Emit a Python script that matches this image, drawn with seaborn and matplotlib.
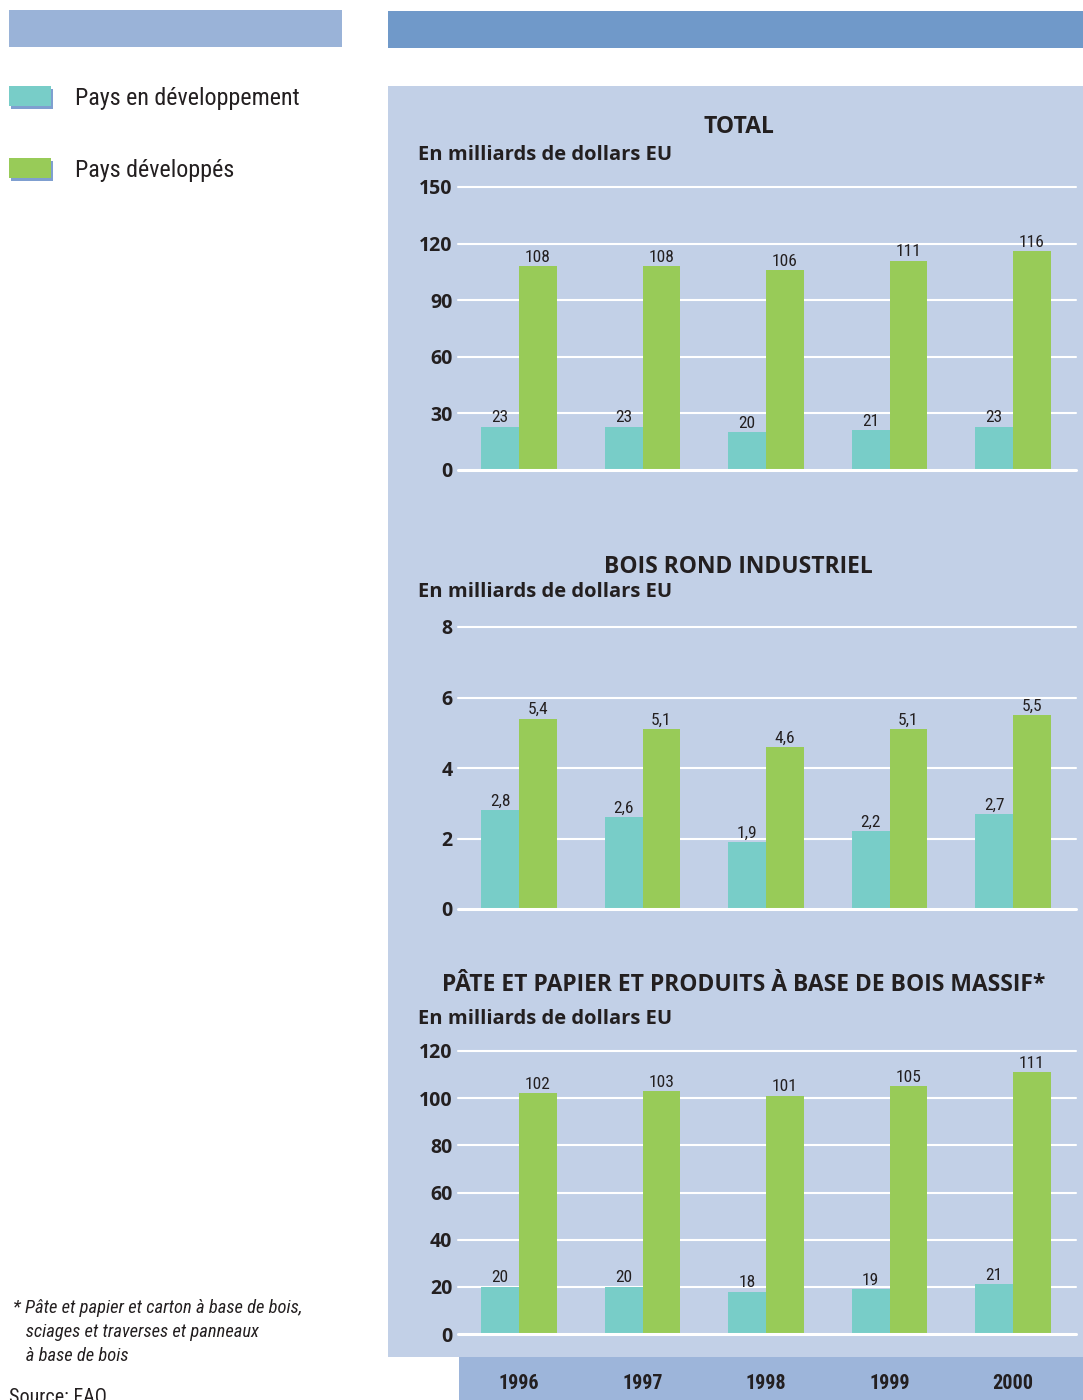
import matplotlib
matplotlib.use("Agg")
import matplotlib.pyplot as plt
from matplotlib.patches import Rectangle
from matplotlib import font_manager
import seaborn as sns
import pandas as pd

# Data (milliards de dollars EU)
years = ["1996", "1997", "1998", "1999", "2000"]
groups = ["Pays en développement", "Pays développés"]

total_dev = [23, 23, 20, 21, 23]
total_devd = [108, 108, 106, 111, 116]

rond_dev = [2.8, 2.6, 1.9, 2.2, 2.7]
rond_devd = [5.4, 5.1, 4.6, 5.1, 5.5]

pate_dev = [20, 20, 18, 19, 21]
pate_devd = [102, 103, 101, 105, 111]

panel_titles = ["TOTAL", "BOIS ROND INDUSTRIEL",
                "PÂTE ET PAPIER ET PRODUITS À BASE DE BOIS MASSIF*"]
unit_label = "En milliards de dollars EU"
y_ticks = [[0, 30, 60, 90, 120, 150], [0, 2, 4, 6, 8],
           [0, 20, 40, 60, 80, 100, 120]]

TEAL = "#78cdc8"
GREEN = "#98cb58"
PANEL_BG = "#c2d0e7"
BAR_TOP_L = "#9ab3d8"
BAR_TOP_R = "#7099c9"
YEAR_BG = "#9db5da"
SHADOW = "#7f9fd0"
TXT = "#231f20"

sns.set_theme(style="white")
plt.rcParams["font.family"] = ["Open Sans", "DejaVu Sans"]

# Pick a condensed face for labels if one is installed
installed = {f.name for f in font_manager.fontManager.ttflist}
narrow_face = next((n for n in ["Liberation Sans Narrow", "Roboto Condensed",
                                "Open Sans Condensed", "DejaVu Sans Condensed",
                                "Roboto"] if n in installed), "DejaVu Sans")
narrow = [narrow_face, "DejaVu Sans"]

W, H = 1083, 1400
fig = plt.figure(figsize=(W / 100, H / 100), dpi=100)


def px_rect(x0, y0, x1, y1, color, z=-10):
    fig.patches.append(Rectangle((x0 / W, 1 - y1 / H), (x1 - x0) / W, (y1 - y0) / H,
                                 transform=fig.transFigure, facecolor=color,
                                 edgecolor="none", zorder=z))


def px_text(x, y, s, **kw):
    fig.text(x / W, 1 - y / H, s, **kw)


# Decorative header bands and panel background
px_rect(9, 10, 342, 47, BAR_TOP_L)
px_rect(388, 11, 1083, 48, BAR_TOP_R)
px_rect(388, 86, 1083, 1357, PANEL_BG)
px_rect(459, 1357, 1083, 1400, YEAR_BG)

# Legend
for (yc, col, lab) in [(97, TEAL, groups[0]), (169, GREEN, groups[1])]:
    px_rect(11, yc - 8, 53, yc + 12, SHADOW, z=-9)
    px_rect(9, yc - 11, 51, yc + 9, col, z=-8)
    px_text(75, yc + 2, lab, family=narrow, fontsize=17.3, color=TXT, va="center", ha="left")

# Footnote and source
foot = ["* Pâte et papier et carton à base de bois,",
        "   sciages et traverses et panneaux",
        "   à base de bois"]
for i, line in enumerate(foot):
    px_text(13, 1308 + 24 * i, line, family=narrow, style="italic", fontsize=13.3,
            color=TXT, va="center", ha="left")
px_text(9, 1388, "Source: FAO", family=narrow, fontsize=14.5, color=TXT, va="top", ha="left")

# Axes geometry in pixels: (zero line y, top line y)
axes_px = [(470, 187), (909, 627), (1334, 1051)]
title_y = [127, 567, 985]
unit_y = [155, 592, 1019]
title_x = [739, 738, 744]
data_sets = [(total_dev, total_devd), (rond_dev, rond_devd), (pate_dev, pate_devd)]
x_left, x_right = 458, 1076

for k in range(3):
    dev, devd = data_sets[k]
    df = pd.DataFrame({
        "year": years * 2,
        "group": [groups[0]] * 5 + [groups[1]] * 5,
        "value": dev + devd,
    })
    y0, y1 = axes_px[k]
    ax = fig.add_axes([x_left / W, 1 - y0 / H, (x_right - x_left) / W, (y0 - y1) / H])
    ax.set_facecolor("none")
    sns.barplot(data=df, x="year", y="value", hue="group", order=years,
                hue_order=groups, palette=[TEAL, GREEN], saturation=1, width=0.61, gap=0,
                errorbar=None, legend=False, ax=ax, zorder=3, linewidth=0)
    ax.set_xlim(-0.494, 4.51)
    ticks = y_ticks[k]
    ax.set_ylim(ticks[0], ticks[-1])
    ax.set_yticks(ticks)
    ax.set_yticklabels([str(t) for t in ticks], fontsize=14, fontweight="bold", color=TXT)
    ax.tick_params(axis="y", length=0, pad=4)
    for t in ticks:
        ax.axhline(t, color="white", lw=1.5 if t else 2.2, zorder=2 if t else 4, clip_on=False)
    for s in ax.spines.values():
        s.set_visible(False)
    ax.set_xlabel("")
    ax.set_ylabel("")
    for cont in ax.containers:
        labels = [f"{b.get_height():g}".replace(".", ",") for b in cont]
        ax.bar_label(cont, labels=labels, padding=1, family=narrow, fontsize=12.5, color=TXT)
    if k == 2:
        ax.set_xticks(range(5))
        ax.set_xticklabels(years, family=narrow, fontsize=14.5, fontweight="bold", color=TXT)
        ax.tick_params(axis="x", length=0, pad=28.5)
    else:
        ax.set_xticks([])
    px_text(title_x[k], title_y[k], panel_titles[k], fontsize=16.5, fontweight="bold",
            color=TXT, ha="center", va="center")
    px_text(418, unit_y[k], unit_label, fontsize=14.5, fontweight="bold", color=TXT,
            ha="left", va="center")

fig.savefig("out.png", dpi=100)
